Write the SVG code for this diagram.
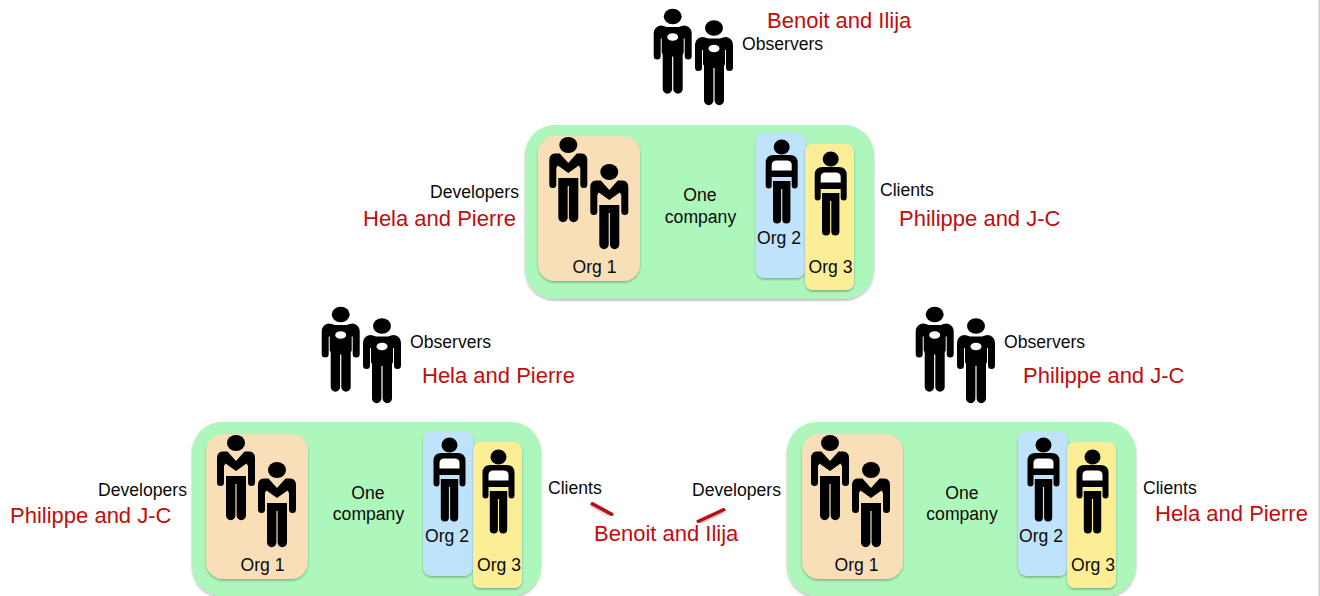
<svg xmlns="http://www.w3.org/2000/svg" width="1320" height="596" viewBox="0 0 1320 596">
<style>
text{font-family:"Liberation Sans",Arial,sans-serif;font-size:17.600px;fill:#0a0a0a}
.m{text-anchor:middle}
.r{font-size:22px;fill:#c00d0d}
.co{fill:#aef7bc;filter:url(#sh)}
.o1{fill:#f9dfb8;filter:url(#sh)}
.o2{fill:#bfe3fb;filter:url(#sh)}
.o3{fill:#fbee96;filter:url(#sh)}
.slash{stroke:#b80f14;stroke-width:3.500;fill:none;filter:url(#sh)}
</style>
<defs>
<filter id="sh" x="-5%" y="-5%" width="110%" height="110%" filterUnits="objectBoundingBox"><feDropShadow dx="0" dy="1.500" stdDeviation="1.200" flood-color="#000" flood-opacity=".3"/></filter>
<g id="obs">
<ellipse cx="0" cy="0" rx="9" ry="7.700" fill="#000"/>
<path d="M-14 9.500Q-12 8.500-9 9.500L-6 10.500H6L9 9.500Q12 8.500 14 9.500Q19 11.500 19 17V39.500A3.500 3.500 0 0 1 12 39.500V22H11V36L10 38V72.500A4.700 4.700 0 0 1 .6 72.500V40H-.6V72.500A4.700 4.700 0 0 1-10 72.500V38L-11 36V22H-12V39.500A3.500 3.500 0 0 1-19 39.500V17Q-19 11.500-14 9.500Z" fill="#000"/>
<ellipse cx="0" cy="20.500" rx="5.500" ry="3.800" fill="#fff"/>
</g>
<g id="dev">
<ellipse cx="0" cy="0" rx="9" ry="8" fill="#000"/>
<path d="M-13.500 8.500H-8.500L0 18L8.500 8.500H13.500Q19 9 19 15V39.500A3.500 3.500 0 0 1 12 39.500V23L10.500 20.500L0 28L-10.500 20.500L-12 23V39.500A3.500 3.500 0 0 1-19 39.500V15Q-19 9-13.500 8.500Z" fill="#000"/>
<path d="M-10 33H10V72.500A4.700 4.700 0 0 1 .6 72.500V41H-.6V72.500A4.700 4.700 0 0 1-10 72.500Z" fill="#000"/>
</g>
<g id="cli">
<ellipse cx="0" cy="0" rx="8" ry="7.500" fill="#000"/>
<path d="M-8 8H8Q16 8 16 16V38.500A3 3 0 0 1 10 38.500V30H-10V38.500A3 3 0 0 1-16 38.500V16Q-16 8-8 8Z" fill="#000"/>
<path d="M-5 13.500H5Q10 13.500 10 18V23.500H-10V18Q-10 13.500-5 13.500Z" fill="#fff"/>
<path d="M-8.700 34H8.700V72.500A4 4 0 0 1 .6 72.500V42H-.6V72.500A4 4 0 0 1-8.700 72.500Z" fill="#000"/>
</g>
</defs>
<rect width="1320" height="596" fill="#fff"/>
<rect x="1318.500" y="0" width="1.500" height="596" fill="#d0d0d0"/>

<g id="observers-top"><use href="#obs" x="672.700" y="16.500"/><use href="#obs" x="714" y="28"/><text x="742" y="50">Observers</text><text class="r" x="767" y="28">Benoit and Ilija</text></g>
<g id="observers-left"><use href="#obs" x="340.700" y="314.500"/><use href="#obs" x="382" y="326"/><text x="410" y="348">Observers</text><text class="r" x="422" y="383">Hela and Pierre</text></g>
<g id="observers-right"><use href="#obs" x="934.700" y="314.500"/><use href="#obs" x="976" y="326"/><text x="1004" y="348">Observers</text><text class="r" x="1023" y="383">Philippe and J-C</text></g>

<g id="company-top">
<rect class="co" x="525" y="125" width="349" height="174" rx="30"/>
<rect class="o1" x="538" y="136" width="102" height="145" rx="17"/>
<rect class="o2" x="755.500" y="133" width="50" height="145" rx="9"/>
<rect class="o3" x="805" y="144" width="49" height="146" rx="8"/>
<use href="#dev" x="568.300" y="145"/><use href="#dev" x="609.300" y="172"/>
<use href="#cli" x="781.700" y="147"/><use href="#cli" x="830.700" y="159"/>
<text class="m" x="700" y="201">One</text><text class="m" x="700.500" y="222.500">company</text>
<text class="m" x="594.500" y="273">Org 1</text><text class="m" x="779" y="243.500">Org 2</text><text class="m" x="830.500" y="272.500">Org 3</text>
<text x="430" y="197.500">Developers</text><text class="r" x="363" y="226">Hela and Pierre</text>
<text x="880" y="195.500">Clients</text><text class="r" x="899" y="226">Philippe and J-C</text>
</g>

<g id="company-left">
<rect class="co" x="192" y="422" width="349" height="174" rx="30"/>
<rect class="o1" x="206" y="434" width="102" height="145" rx="17"/>
<rect class="o2" x="423" y="431" width="50" height="145" rx="9"/>
<rect class="o3" x="473" y="442" width="49" height="146" rx="8"/>
<use href="#dev" x="236" y="443"/><use href="#dev" x="277" y="470"/>
<use href="#cli" x="449.500" y="445"/><use href="#cli" x="498.500" y="457"/>
<text class="m" x="368" y="498.500">One</text><text class="m" x="368.500" y="520">company</text>
<text class="m" x="262.500" y="570.500">Org 1</text><text class="m" x="447" y="541.500">Org 2</text><text class="m" x="499" y="570.500">Org 3</text>
<text x="98" y="495.500">Developers</text><text class="r" x="10" y="523">Philippe and J-C</text>
<text x="548" y="493.500">Clients</text>
</g>

<g id="company-right">
<rect class="co" x="787" y="422" width="349" height="174" rx="30"/>
<rect class="o1" x="802" y="434" width="101" height="145" rx="17"/>
<rect class="o2" x="1018" y="431" width="50" height="145" rx="9"/>
<rect class="o3" x="1067" y="442" width="49" height="146" rx="8"/>
<use href="#dev" x="830" y="443"/><use href="#dev" x="871" y="470"/>
<use href="#cli" x="1043.500" y="445"/><use href="#cli" x="1092.500" y="457"/>
<text class="m" x="962" y="498.500">One</text><text class="m" x="962" y="520">company</text>
<text class="m" x="856.500" y="570.500">Org 1</text><text class="m" x="1041" y="541.500">Org 2</text><text class="m" x="1093" y="570.500">Org 3</text>
<text x="692" y="495.500">Developers</text>
<text x="1143" y="493.500">Clients</text><text class="r" x="1155" y="521">Hela and Pierre</text>
</g>

<g id="shared-label"><text class="r" x="594" y="541">Benoit and Ilija</text></g>
<g id="connectors" fill="none">
<path class="slash" d="M591 503L613 515"/>
<path class="slash" d="M697 522L725 509"/>
</g>
</svg>
